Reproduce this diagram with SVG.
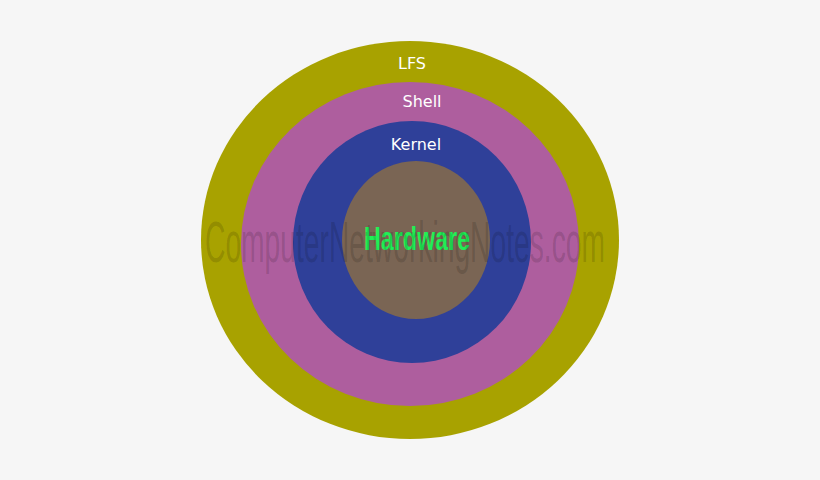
<svg xmlns="http://www.w3.org/2000/svg" width="820" height="480" viewBox="0 0 820 480">
<style>
.l{font-family:"Comic Sans MS","DejaVu Sans",sans-serif;font-size:16px;fill:#fff;text-anchor:middle}
</style>
<rect width="820" height="480" fill="#f6f6f6"/>
<g id="lfs"><ellipse cx="410" cy="240" rx="209" ry="199" fill="#a8a200"/><text class="l" x="412" y="69">LFS</text></g>
<g id="shell"><ellipse cx="410" cy="244" rx="169" ry="162" fill="#ae5e9e"/><text class="l" x="422" y="107">Shell</text></g>
<g id="kernel"><ellipse cx="412" cy="242" rx="119" ry="121" fill="#2f4099"/><text class="l" x="416" y="150">Kernel</text></g>
<g id="hardware"><ellipse cx="416" cy="240" rx="74" ry="79" fill="#7a6554"/><text x="417" y="250" font-family="Liberation Sans Narrow,Liberation Sans,sans-serif" font-weight="bold" font-size="34" fill="#22ee55" text-anchor="middle" textLength="106" lengthAdjust="spacingAndGlyphs">Hardware</text></g>
<text x="405" y="262" font-family="Liberation Sans Narrow,Liberation Sans,sans-serif" font-size="58" fill="#000" fill-opacity="0.15" text-anchor="middle" textLength="400" lengthAdjust="spacingAndGlyphs">ComputerNetworkingNotes.com</text>
</svg>
